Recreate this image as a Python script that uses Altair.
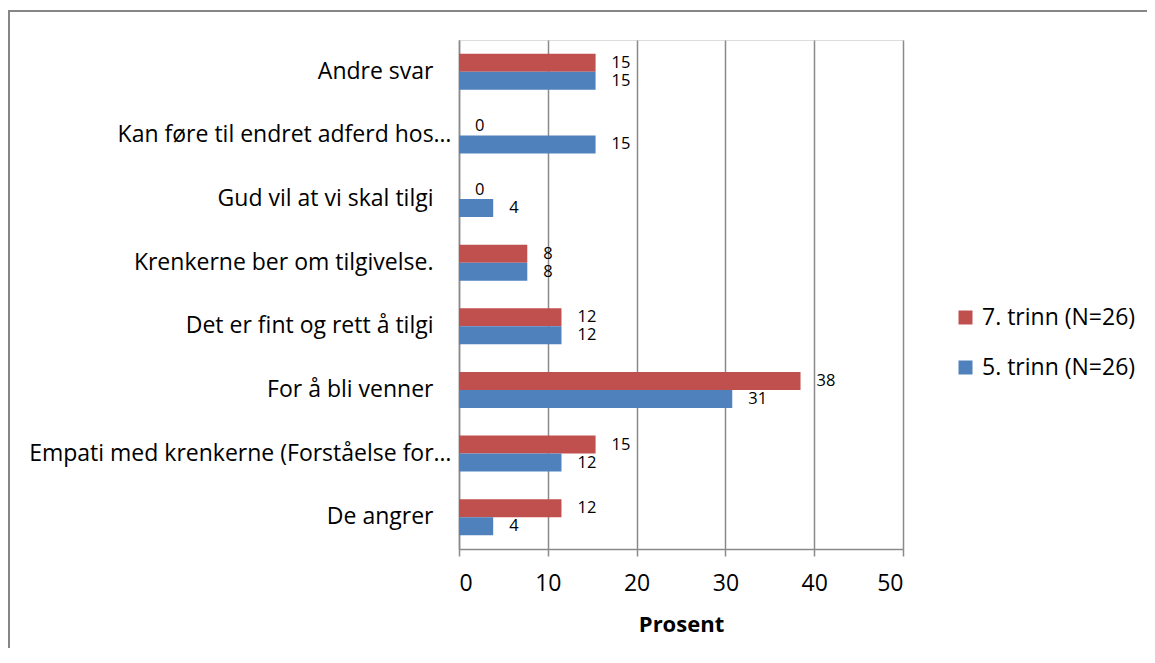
import altair as alt
import pandas as pd

categories = [
    "Andre svar",
    "Kan føre til endret adferd hos…",
    "Gud vil at vi skal tilgi",
    "Krenkerne ber om tilgivelse.",
    "Det er fint og rett å tilgi",
    "For å bli venner",
    "Empati med krenkerne (Forståelse for…",
    "De angrer",
]
series = ["7. trinn (N=26)", "5. trinn (N=26)"]
values_7 = [15.38, 0, 0, 7.69, 11.54, 38.46, 15.38, 11.54]
values_5 = [15.38, 15.38, 3.85, 7.69, 11.54, 30.77, 11.54, 3.85]
colors = ["#C0504D", "#4F81BD"]
x_ticks = [0, 10, 20, 30, 40, 50]

rows = []
for c, v in zip(categories, values_7):
    rows.append({"kategori": c, "serie": series[0], "prosent": v})
for c, v in zip(categories, values_5):
    rows.append({"kategori": c, "serie": series[1], "prosent": v})
df = pd.DataFrame(rows)

FONT = "Open Sans"
GRID = "#8a8a8a"
LABEL_SIZE = 23


def y_axis(padding, expr, domain=True):
    return alt.Axis(
        title=None,
        orient="left",
        ticks=False,
        grid=False,
        domain=domain,
        domainColor=GRID,
        domainWidth=1.5,
        labelFont=FONT,
        labelFontSize=LABEL_SIZE,
        labelColor="#000000",
        labelPadding=padding,
        labelLimit=600,
        labelExpr=expr,
    )


y_scale = alt.Scale(paddingInner=0.434, paddingOuter=0.217)
yoff_enc = alt.YOffset("serie:N", sort=series, scale=alt.Scale(paddingInner=0, paddingOuter=0))
x_enc = alt.X(
    "prosent:Q",
    scale=alt.Scale(domain=[0, 50], nice=False, zero=True),
    axis=alt.Axis(
        title="Prosent",
        values=x_ticks,
        grid=True,
        gridColor=GRID,
        gridWidth=1.5,
        domainColor=GRID,
        domainWidth=1.5,
        tickColor=GRID,
        tickWidth=1.5,
        tickSize=7,
        labelFont=FONT,
        labelFontSize=LABEL_SIZE,
        labelColor="#000000",
        labelPadding=16,
        titleFont=FONT,
        titleFontSize=22,
        titleFontWeight="bold",
        titleColor="#000000",
        titlePadding=19,
    ),
)

bars = alt.Chart(df).mark_bar().encode(
    y=alt.Y(
        "kategori:N",
        sort=categories,
        scale=y_scale,
        axis=y_axis(26, "indexof(datum.label, '…') >= 0 ? '' : datum.label"),
    ),
    yOffset=yoff_enc,
    x=x_enc,
    color=alt.Color(
        "serie:N",
        sort=series,
        scale=alt.Scale(domain=series, range=colors),
        legend=alt.Legend(
            title=None,
            orient="none",
            legendX=495,
            legendY=266,
            symbolType="square",
            symbolSize=196,
            symbolStrokeWidth=0,
            labelFont=FONT,
            labelFontSize=23,
            labelColor="#000000",
            labelOffset=5,
            rowPadding=26,
            padding=0,
        ),
    ),
)

labels = alt.Chart(df).mark_text(
    align="left", baseline="middle", dx=16, font=FONT, fontSize=16.5, color="#000000"
).encode(
    y=alt.Y(
        "kategori:N",
        sort=categories,
        scale=y_scale,
        axis=y_axis(8, "indexof(datum.label, '…') >= 0 ? datum.label : ''", domain=False),
    ),
    yOffset=alt.YOffset("serie:N", sort=series, scale=alt.Scale(paddingInner=0, paddingOuter=0)),
    x=alt.X("prosent:Q"),
    text=alt.Text("prosent:Q", format=".0f"),
)

border = alt.Chart(pd.DataFrame({"a": [0]})).mark_rect(
    fillOpacity=0, stroke="#868686", strokeWidth=2
).encode(
    x=alt.value(-450),
    x2=alt.value(720),
    y=alt.value(-29),
    y2=alt.value(650),
)

chart = alt.layer(border, bars, labels).resolve_scale(y="independent").properties(
    width=444,
    height=509,
    autosize=alt.AutoSizeParams(type="none"),
    padding={"left": 451, "top": 32, "right": 244, "bottom": 99},
).configure_view(stroke=None).configure(background="white")

chart.save("out.html", embed_options={"renderer": "svg", "actions": False})
